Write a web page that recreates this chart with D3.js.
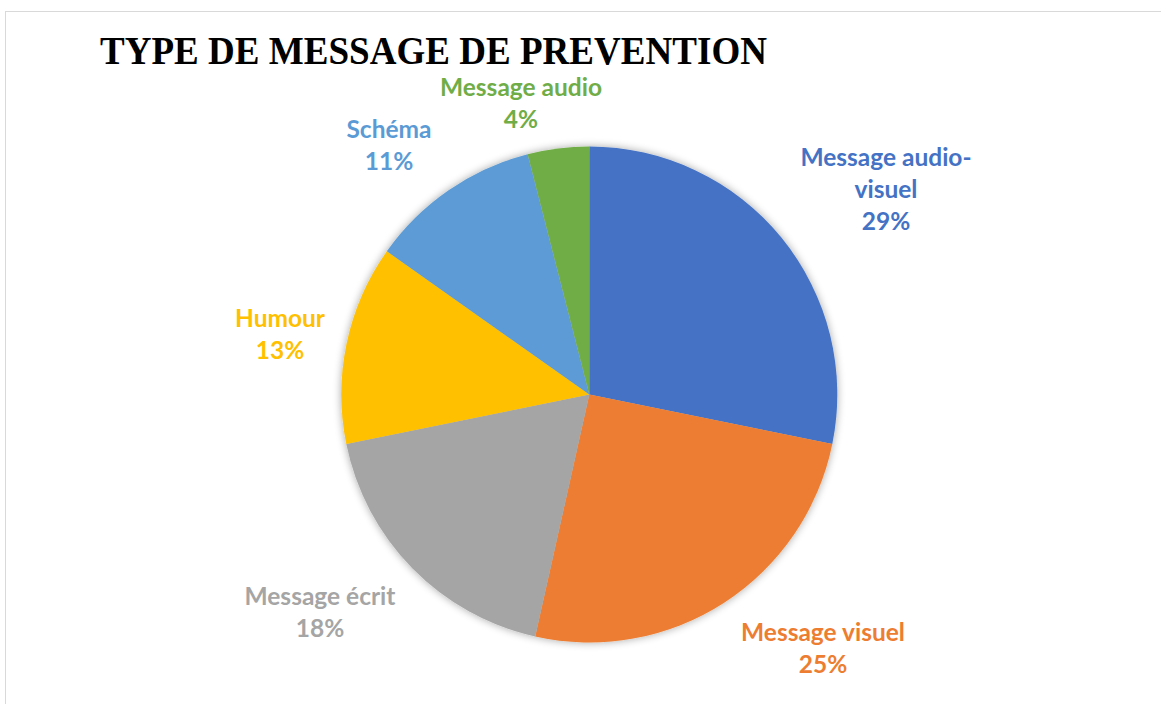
<!DOCTYPE html>
<html>
<head>
<meta charset="utf-8">
<script src="https://cdn.jsdelivr.net/npm/d3@7"></script>
<style>
  html, body { margin: 0; padding: 0; background: #ffffff; }
  svg { display: block; }
</style>
</head>
<body>
<svg id="chart" width="1161" height="704"></svg>
<script>
// ---- data ----
const categories = ["Message audio-visuel", "Message visuel", "Message écrit", "Humour", "Schéma", "Message audio"];
const labelLines = [["Message audio-", "visuel"], ["Message visuel"], ["Message écrit"], ["Humour"], ["Schéma"], ["Message audio"]];
const shares = [28.2, 25.3, 18.3, 13.0, 11.2, 4.0];
const percentLabels = ["29%", "25%", "18%", "13%", "11%", "4%"];
const colors = ["#4472C4", "#ED7D31", "#A5A5A5", "#FFC000", "#5B9BD5", "#70AD47"];
const titleText = "TYPE DE MESSAGE DE PREVENTION";

// ---- layout ----
const svg = d3.select("#chart");
const W = 1161, H = 704;
const cx = 589.3, cy = 394.5, R = 248;
// label anchor positions (centre x, first baseline y)
const labelPos = [[886, 166], [823, 641], [320, 605], [280, 327], [389, 138], [521, 96]];
const lineH = 32;

// frame
svg.append("rect")
  .attr("x", 5.5).attr("y", 11.5)
  .attr("width", W + 20).attr("height", H + 20)
  .attr("fill", "none").attr("stroke", "#d9d9d9").attr("stroke-width", 1);

// title
svg.append("text")
  .attr("x", 100).attr("y", 64)
  .attr("font-family", "'Liberation Serif', 'Times New Roman', serif")
  .attr("font-weight", "bold")
  .attr("font-size", 41)
  .attr("textLength", 667)
  .attr("lengthAdjust", "spacingAndGlyphs")
  .attr("fill", "#000")
  .text(titleText);

// shadow filter
const defs = svg.append("defs");
const f = defs.append("filter").attr("id", "shadow")
  .attr("x", "-20%").attr("y", "-20%").attr("width", "140%").attr("height", "140%");
f.append("feGaussianBlur").attr("in", "SourceAlpha").attr("stdDeviation", 4).attr("result", "b");
f.append("feComponentTransfer").attr("in", "b").attr("result", "s")
  .append("feFuncA").attr("type", "linear").attr("slope", 0.35);
const m = f.append("feMerge");
m.append("feMergeNode").attr("in", "s");
m.append("feMergeNode").attr("in", "SourceGraphic");

const pie = d3.pie().sort(null).value(d => d);
const arcs = pie(shares);
const arc = d3.arc().innerRadius(0).outerRadius(R);

const g = svg.append("g").attr("transform", `translate(${cx},${cy})`).attr("filter", "url(#shadow)");
g.selectAll("path").data(arcs).enter().append("path")
  .attr("d", arc)
  .attr("fill", (d, i) => colors[i]);

// labels
const lg = svg.append("g")
  .attr("font-family", "Lato, 'Open Sans', sans-serif")
  .attr("font-weight", "bold")
  .attr("font-size", 24.5)
  .attr("text-anchor", "middle");

categories.forEach((c, i) => {
  const t = lg.append("text").attr("fill", colors[i]);
  const lines = labelLines[i].concat([percentLabels[i]]);
  lines.forEach((ln, k) => {
    t.append("tspan")
      .attr("x", labelPos[i][0])
      .attr("y", labelPos[i][1] + k * lineH)
      .text(ln);
  });
});
</script>
</body>
</html>
